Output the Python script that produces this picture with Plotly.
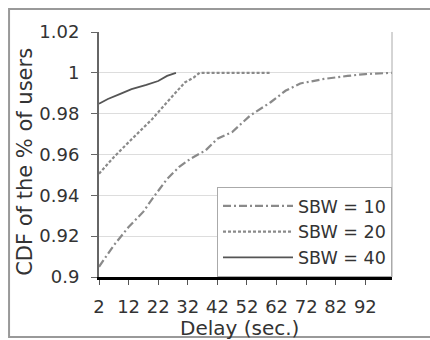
import plotly.graph_objects as go

# Data
delay_10 = [2, 7, 12, 17, 20, 22, 25, 29, 33, 38, 42, 47, 53, 60, 65, 70, 78, 86, 92, 101]
cdf_10 = [0.905, 0.9155, 0.9245, 0.932, 0.9383, 0.942, 0.948, 0.9538, 0.958, 0.962,
          0.9677, 0.971, 0.979, 0.9856, 0.9912, 0.9948, 0.997, 0.9985, 0.9994, 1.0]

delay_20 = [2, 7, 12, 16, 20, 24, 28, 31, 34, 36, 60]
cdf_20 = [0.9506, 0.9587, 0.966, 0.9717, 0.9774, 0.984, 0.9904, 0.9953, 0.9977, 1.0, 1.0]

delay_40 = [2, 5, 9, 13, 18, 22, 25, 28]
cdf_40 = [0.9849, 0.9872, 0.9896, 0.992, 0.9941, 0.996, 0.9985, 1.0]

series_names = ["SBW = 10", "SBW = 20", "SBW = 40"]
x_ticks = [2, 12, 22, 32, 42, 52, 62, 72, 82, 92]

FONT = "DejaVu Sans"
TXT = "#333333"

fig = go.Figure()
fig.add_trace(go.Scatter(x=delay_10, y=cdf_10, mode="lines", name=series_names[0],
                         line=dict(color="#8a8a8a", width=2.2, dash="8px,3px,2px,3px")))
fig.add_trace(go.Scatter(x=delay_20, y=cdf_20, mode="lines", name=series_names[1],
                         line=dict(color="#8a8a8a", width=2.2, dash="3px,2px")))
fig.add_trace(go.Scatter(x=delay_40, y=cdf_40, mode="lines", name=series_names[2],
                         line=dict(color="#555555", width=1.8)))

fig.update_layout(
    width=430, height=340,
    margin=dict(l=99, r=38, t=32, b=63),
    paper_bgcolor="white", plot_bgcolor="white",
    font=dict(family=FONT, color=TXT, size=17),
    showlegend=True,
    legend=dict(x=1, xanchor="right", y=0.0, yanchor="bottom",
                bgcolor="white", bordercolor="#aaaaaa", borderwidth=1,
                font=dict(family=FONT, size=17.5, color=TXT),
                itemwidth=70, tracegroupgap=0),
    xaxis=dict(range=[2, 101], tickvals=x_ticks, showgrid=False, zeroline=False,
               showline=True, linecolor="black", linewidth=3,
               ticks="outside", ticklen=5, tickcolor="#555", tickwidth=1,
               ticklabelstandoff=6,
               tickfont=dict(family=FONT, size=18, color=TXT)),
    yaxis=dict(range=[0.9, 1.02], dtick=0.02, tick0=0.9, showgrid=True,
               gridcolor="#dddddd", gridwidth=1, zeroline=False,
               showline=True, linecolor="#666666", linewidth=2,
               ticks="outside", ticklen=6, tickcolor="#666", tickwidth=1,
               ticklabelstandoff=8,
               tickfont=dict(family=FONT, size=18, color=TXT)),
    annotations=[
        dict(text="Delay (sec.)", xref="paper", yref="paper", x=0.478, y=-0.208,
             showarrow=False, xanchor="center", yanchor="middle",
             font=dict(family=FONT, size=20, color=TXT)),
        dict(text="CDF of the % of users", xref="paper", yref="paper", x=-0.2526, y=0.47,
             showarrow=False, xanchor="center", yanchor="middle", textangle=-90,
             font=dict(family=FONT, size=21, color=TXT)),
    ],
    shapes=[
        dict(type="line", xref="paper", yref="paper", x0=1, x1=1, y0=0, y1=1,
             line=dict(color="#aaaaaa", width=1)),
        dict(type="rect", xref="paper", yref="paper", x0=-0.307, x1=2.0, y0=-0.245, y1=1.094,
             line=dict(color="#999999", width=2), layer="below"),
    ],
)

fig.write_html("out.html")
